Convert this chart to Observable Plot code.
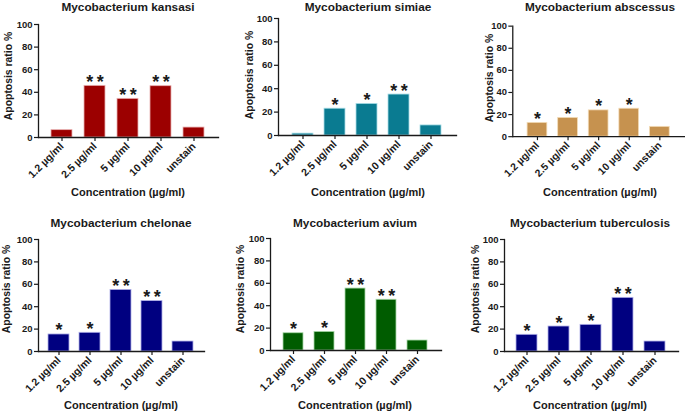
<!DOCTYPE html>
<html>
<head>
<meta charset="utf-8">
<script src="https://cdn.jsdelivr.net/npm/d3@7"></script>
<script src="https://cdn.jsdelivr.net/npm/@observablehq/plot@0.6"></script>
<style>
  html, body { margin: 0; padding: 0; background: #fff; }
  #chart { position: relative; width: 685px; height: 411px; overflow: hidden; background: #fff;
           font-family: "Liberation Sans", Arial, Helvetica, sans-serif; font-weight: bold; color: #1a1a1a; }
  .panel { position: absolute; }
  .lbl { position: absolute; white-space: nowrap; line-height: 1.15; transform: translate(-50%, -50%); }
  .title { font-size: 11.8px; }
  .xlab { font-size: 11px; }
  .ylab { font-size: 10.4px; transform: translate(-50%, -50%) rotate(-90deg); }
</style>
</head>
<body>
<div id="chart"></div>
<script>
// ---- data ----
const categories = ["1.2 µg/ml", "2.5 µg/ml", "5 µg/ml", "10 µg/ml", "unstain"];
const yTicks = [0, 20, 40, 60, 80, 100];

const kansasi      = [6.5, 45.7, 34.2, 45.4, 8.8];
const simiae       = [1.6, 22.9, 27.0, 35.0, 8.6];
const abscessus    = [12.5, 17.0, 23.8, 25.3, 8.9];
const chelonae     = [15.2, 16.7, 55.0, 45.0, 8.9];
const avium        = [15.4, 16.6, 55.3, 45.3, 8.9];
const tuberculosis = [14.9, 22.3, 23.8, 47.9, 8.9];

const sigKansasi      = ["", "**", "**", "**", ""];
const sigSimiae       = ["", "*", "*", "**", ""];
const sigAbscessus    = ["*", "*", "*", "*", ""];
const sigChelonae     = ["*", "*", "**", "**", ""];
const sigAvium        = ["*", "*", "**", "**", ""];
const sigTuberculosis = ["*", "*", "*", "**", ""];

const titles = ["Mycobacterium kansasi", "Mycobacterium simiae", "Mycobacterium abscessus",
                "Mycobacterium chelonae", "Mycobacterium avium", "Mycobacterium tuberculosis"];
const yLabel = "Apoptosis ratio %";
const xLabel = "Concentration (µg/ml)";

// ---- layout (per panel) ----
const panels = [
  {title: titles[0], values: kansasi, sig: sigKansasi, color: "#9c0000", edge: "#e8b0b0",
   left: 0, top: 0, width: 228, height: 205, ml: 38, mr: 10, mt: 24, mb: 68, pi: 0.35, po: 0.34,
   yl: [9.3, 76], tl: [128, 7.5], xl: [128, 192]},
  {title: titles[1], values: simiae, sig: sigSimiae, color: "#0a7b91", edge: "#a8dce6",
   left: 228, top: 0, width: 230, height: 205, ml: 50, mr: 2, mt: 18, mb: 70, pi: 0.33, po: 0.425,
   yl: [249.7, 75], tl: [368, 7.5], xl: [368, 192]},
  {title: titles[2], values: abscessus, sig: sigAbscessus, color: "#c6924f", edge: "#f3dcb8",
   left: 458, top: 0, width: 230, height: 205, ml: 55, mr: 0, mt: 26, mb: 67, pi: 0.34, po: 0.47,
   yl: [490, 77.5], tl: [600, 7.5], xl: [600, 192]},
  {title: titles[3], values: chelonae, sig: sigChelonae, color: "#000080", edge: "#b0b0e8",
   left: 0, top: 205, width: 228, height: 206, ml: 38, mr: 24, mt: 34, mb: 60, pi: 0.32, po: 0.33,
   yl: [7.3, 289], tl: [121, 224], xl: [121, 405]},
  {title: titles[4], values: avium, sig: sigAvium, color: "#005c00", edge: "#a8d8a8",
   left: 228, top: 205, width: 230, height: 206, ml: 42, mr: 17, mt: 33, mb: 61, pi: 0.34, po: 0.36,
   yl: [240.7, 288.5], tl: [355, 224], xl: [355, 405]},
  {title: titles[5], values: tuberculosis, sig: sigTuberculosis, color: "#000080", edge: "#b0b0e8",
   left: 458, top: 205, width: 227, height: 206, ml: 46, mr: 7, mt: 34, mb: 60, pi: 0.33, po: 0.335,
   yl: [475.7, 288.5], tl: [590, 224], xl: [590, 405]}
];

const chart = document.getElementById("chart");

function addLabel(cls, text, pos) {
  const d = document.createElement("div");
  d.className = "lbl " + cls;
  d.textContent = text;
  d.style.left = pos[0] + "px";
  d.style.top = pos[1] + "px";
  chart.appendChild(d);
}

for (const p of panels) {
  const data = categories.map((c, i) => ({c, v: p.values[i], s: p.sig[i]}));
  const svg = Plot.plot({
    width: p.width, height: p.height,
    marginLeft: p.ml, marginRight: p.mr, marginTop: p.mt, marginBottom: p.mb,
    style: {fontFamily: '"Liberation Sans", Arial, sans-serif', fontWeight: "bold", color: "#1a1a1a",
            background: "transparent", overflow: "visible", fontSize: "10px"},
    x: {domain: categories, paddingInner: p.pi, paddingOuter: p.po, align: 0.5, label: null},
    y: {domain: [0, 100], label: null},
    marks: [
      Plot.barY(data, {x: "c", y: "v", fill: p.color, stroke: p.edge, strokeWidth: 0.8}),
      Plot.text(data, {x: "c", y: "v", text: d => d.s.split("").join("\u2009"), fontSize: 18,
                       lineAnchor: "bottom", dy: 2, fill: "#1a1a1a", fontWeight: "bold"}),
      Plot.axisY({ticks: yTicks, tickSize: 4, tickPadding: 2, fontSize: 9.5, label: null, strokeWidth: 1.2}),
      Plot.axisX({tickSize: 4, tickPadding: 3, tickRotate: -45, fontSize: 10.5, label: null, strokeWidth: 1.2}),
      Plot.frame({anchor: "left", strokeWidth: 1.3, stroke: "#1a1a1a"}),
      Plot.frame({anchor: "bottom", strokeWidth: 1.3, stroke: "#1a1a1a"})
    ]
  });
  const wrap = document.createElement("div");
  wrap.className = "panel";
  wrap.style.left = p.left + "px";
  wrap.style.top = p.top + "px";
  wrap.appendChild(svg);
  chart.appendChild(wrap);
  addLabel("title", p.title, p.tl);
  addLabel("xlab", xLabel, p.xl);
  addLabel("ylab", yLabel, p.yl);
}
</script>
</body>
</html>
